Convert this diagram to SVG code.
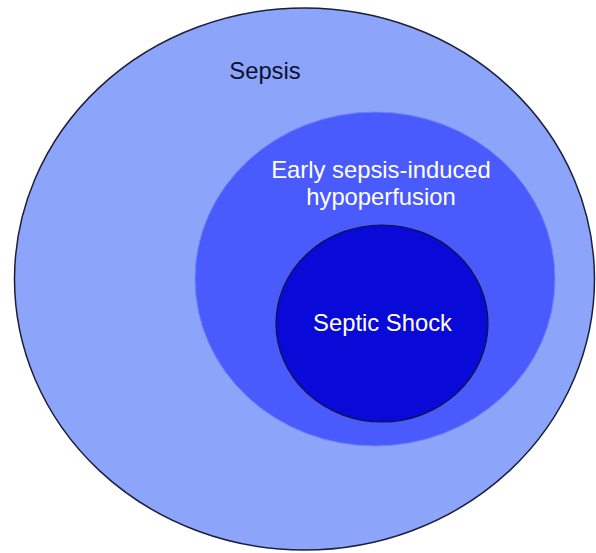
<svg xmlns="http://www.w3.org/2000/svg" width="596" height="553" viewBox="0 0 596 553">
<style>
text{font-family:"Liberation Sans",Arial,sans-serif;font-size:23.8px;text-anchor:middle}
.light{fill:#ffffff}
.dark{fill:#0d0f2e}
</style>
<rect width="596" height="553" fill="#ffffff"/>
<g id="sepsis">
<ellipse cx="304.5" cy="279" rx="290" ry="271" fill="#8ca5fb" stroke="#1c1f3a" stroke-width="1.5"/>
<text class="dark" x="265" y="79">Sepsis</text>
</g>
<g id="hypoperfusion">
<ellipse cx="375" cy="279" rx="180" ry="167" fill="#4a5bfd" stroke="#6f82f6" stroke-width="1"/>
<text class="light" x="381" y="178">Early sepsis-induced</text>
<text class="light" x="381" y="205">hypoperfusion</text>
</g>
<g id="septic-shock">
<ellipse cx="382" cy="323.5" rx="106" ry="98.5" fill="#0a0ad8" stroke="#10143a" stroke-width="1.2"/>
<text class="light" x="382.5" y="331">Septic Shock</text>
</g>
<g id="connectors"/>
</svg>
